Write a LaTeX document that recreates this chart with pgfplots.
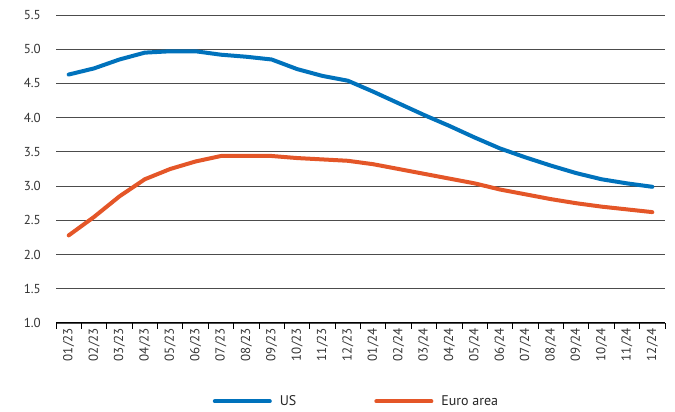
\documentclass[border=0pt]{standalone}
\usepackage{pgfplots}
\pgfplotsset{compat=1.18}
\usepackage{fontspec}
\setmainfont{PT Sans}
\definecolor{usblue}{RGB}{0,114,188}
\definecolor{euorange}{RGB}{228,86,40}
\begin{document}
\begin{tikzpicture}[x=1pt,y=1pt]
\useasboundingbox (-56,-89) rectangle (619,323);
\begin{axis}[
  at={(0,0)}, anchor=south west,
  scale only axis,
  width=609pt, height=308pt,
  xmin=-0.5, xmax=23.5,
  ymin=1.0, ymax=5.5,
  ytick={1.0,1.5,...,5.5},
  yticklabel style={/pgf/number format/fixed,/pgf/number format/fixed zerofill,/pgf/number format/precision=1, text=black!80},
  /pgf/number format/assume math mode=true,
  xtick={0,...,23},
  xticklabels={01/23,02/23,03/23,04/23,05/23,06/23,07/23,08/23,09/23,10/23,11/23,12/23,01/24,02/24,03/24,04/24,05/24,06/24,07/24,08/24,09/24,10/24,11/24,12/24},
  xticklabel style={rotate=90, anchor=east, text=black!80},
  minor xtick={-0.5,0.5,...,23.5},
  major tick length=0pt,
  minor tick length=6pt,
  tick align=outside,
  every minor tick/.style={black, line width=0.9pt},
  axis x line*=bottom,
  axis y line*=left,
  y axis line style={draw=none},
  x axis line style={line width=1pt, black},
  ymajorgrids,
  grid style={black!70, line width=0.8pt},
  tick label style={font=\fontsize{13}{15}\selectfont},
  xticklabel style={inner sep=5pt},
  yticklabel style={inner sep=0pt, xshift=-15pt},
  legend style={at={(0.4934,-0.222)}, anchor=north, draw=none, legend columns=2,
    font=\fontsize{14}{16}\selectfont, text=black!85,
    /tikz/every odd column/.append style={column sep=6pt},
    /tikz/every even column/.append style={column sep=76pt}},
  legend image code/.code={\draw[#1, line width=4pt, line cap=round] (0pt,0pt) -- (55pt,0pt);},
  legend cell align=left,
]
\addplot[usblue, line width=4pt, line cap=round, line join=round] coordinates {
(0,4.63) (1,4.72) (2,4.85) (3,4.95) (4,4.97) (5,4.97) (6,4.92) (7,4.89) (8,4.85) (9,4.71) (10,4.61) (11,4.54)
(12,4.38) (13,4.21) (14,4.04) (15,3.88) (16,3.71) (17,3.55) (18,3.42) (19,3.30) (20,3.19) (21,3.10) (22,3.04) (23,2.99)};
\addlegendentry{US}
\addplot[euorange, line width=4pt, line cap=round, line join=round] coordinates {
(0,2.28) (1,2.55) (2,2.85) (3,3.10) (4,3.25) (5,3.36) (6,3.44) (7,3.44) (8,3.44) (9,3.41) (10,3.39) (11,3.37)
(12,3.32) (13,3.25) (14,3.18) (15,3.11) (16,3.04) (17,2.95) (18,2.88) (19,2.81) (20,2.75) (21,2.70) (22,2.66) (23,2.62)};
\addlegendentry{Euro area}
\end{axis}
\end{tikzpicture}
\end{document}
